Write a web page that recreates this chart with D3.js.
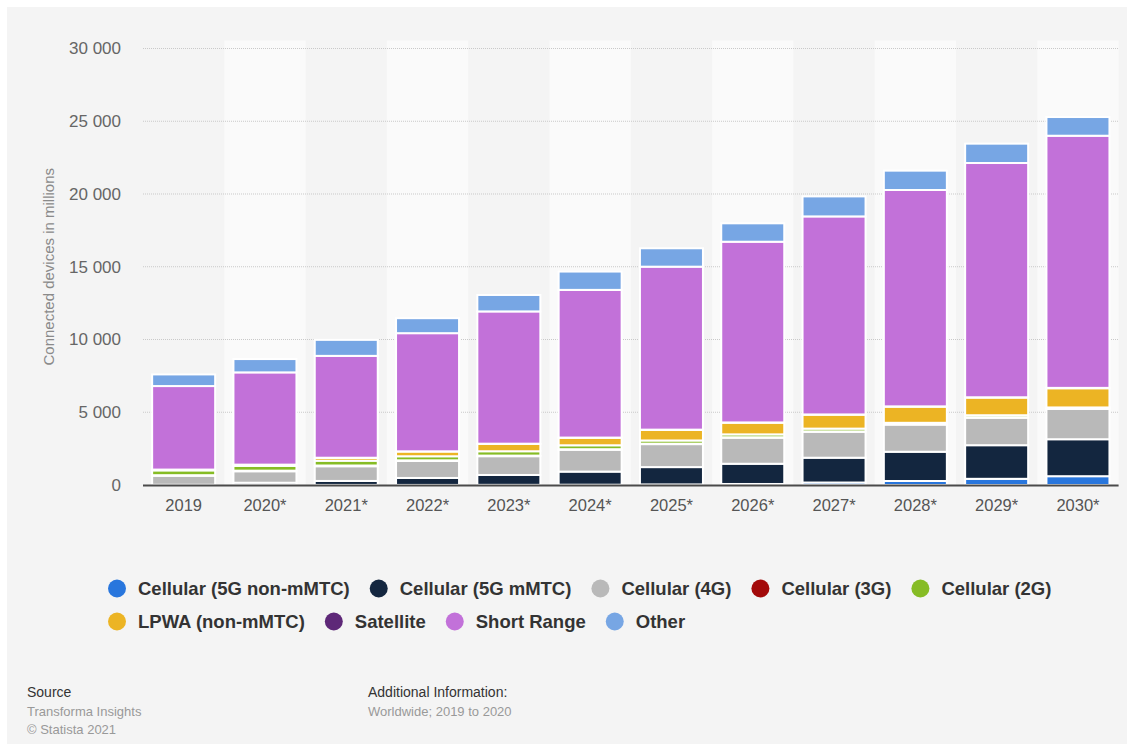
<!DOCTYPE html>
<html>
<head>
<meta charset="utf-8">
<script src="https://cdn.jsdelivr.net/npm/d3@7"></script>
<style>
  html, body { margin: 0; padding: 0; background: #fff; }
  svg { display: block; font-family: "Liberation Sans", Arial, Helvetica, sans-serif; }
</style>
</head>
<body>
<svg id="chart" width="1134" height="744"></svg>
<script>
// categories
var years = ["2019", "2020*", "2021*", "2022*", "2023*", "2024*", "2025*", "2026*", "2027*", "2028*", "2029*", "2030*"];

// series values, connected devices in millions
var cell5GNonMtc = [0, 0, 5, 5, 10, 20, 40, 70, 170, 275, 425, 605];
var cell5GMtc    = [15, 155, 275, 480, 680, 900, 1190, 1390, 1705, 2010, 2310, 2540];
var cell4G       = [620, 790, 1010, 1170, 1290, 1505, 1580, 1790, 1785, 1870, 1890, 2095];
var cell3G       = [40, 40, 50, 40, 40, 35, 30, 30, 25, 20, 20, 10];
var cell2G       = [330, 330, 330, 280, 300, 270, 220, 200, 190, 100, 150, 80];
var lpwa         = [50, 80, 200, 330, 510, 520, 735, 805, 960, 1110, 1215, 1320];
var satellite    = [5, 5, 5, 10, 10, 10, 10, 15, 15, 20, 20, 25];
var shortRange   = [5740, 6340, 7000, 8120, 9090, 10150, 11200, 12420, 13610, 14870, 16100, 17330];
var other        = [800, 915, 1100, 1030, 1130, 1260, 1265, 1265, 1375, 1330, 1330, 1285];

var seriesNames = ["Cellular (5G non-mMTC)", "Cellular (5G mMTC)", "Cellular (4G)", "Cellular (3G)", "Cellular (2G)",
                   "LPWA (non-mMTC)", "Satellite", "Short Range", "Other"];
var seriesColors = ["#2876dd", "#13263f", "#b9b9b9", "#a30a0a", "#86bc25", "#ecb424", "#5e2878", "#c271d9", "#77a6e4"];
var seriesValues = [cell5GNonMtc, cell5GMtc, cell4G, cell3G, cell2G, lpwa, satellite, shortRange, other];

var yTicks = [0, 5000, 10000, 15000, 20000, 25000, 30000];

var rows = years.map(function(yr, i) {
    var r = {year: yr};
    seriesNames.forEach(function(n, k) { r[n] = seriesValues[k][i]; });
    return r;
});

var svg = d3.select("svg#chart");

svg.append("rect")
    .attr("x", 7).attr("y", 7)
    .attr("width", 1120).attr("height", 737)
    .attr("fill", "#f4f4f4");

var plotLeft = 143, plotRight = 1118.6, plotTop = 48.5, plotBottom = 485;

var xBand = d3.scaleBand().domain(years).range([plotLeft, plotRight]).padding(0);
var xBar = d3.scaleBand().domain(years).range([plotLeft, plotRight]).paddingInner(0.225).paddingOuter(0.1125);
var yScale = d3.scaleLinear().domain([0, 30000]).range([plotBottom, plotTop]);

// alternating column shading
svg.append("g").selectAll("rect")
    .data(years.filter(function(d, i) { return i % 2 === 1; }))
    .enter()
    .append("rect")
    .attr("x", function(d) { return xBand(d); })
    .attr("y", plotTop - 8)
    .attr("width", xBand.bandwidth())
    .attr("height", plotBottom - plotTop + 8)
    .attr("fill", "#fafafa");

// grid lines
svg.append("g").selectAll("line")
    .data(yTicks.filter(function(d) { return d > 0; }))
    .enter()
    .append("line")
    .attr("x1", plotLeft).attr("x2", plotRight)
    .attr("y1", function(d) { return yScale(d); })
    .attr("y2", function(d) { return yScale(d); })
    .attr("stroke", "#c9c9c9")
    .attr("stroke-width", 1)
    .attr("stroke-dasharray", "1,1");

// y axis labels
var fmt = function(v) { return d3.format(",")(v).replace(/,/g, " "); };
var yAxis = svg.append("g")
    .attr("transform", "translate(" + (plotLeft - 22) + ",0)")
    .call(d3.axisLeft(yScale).tickValues(yTicks).tickFormat(fmt).tickSize(0).tickPadding(0));
yAxis.select(".domain").remove();
yAxis.selectAll("text")
    .attr("fill", "#666")
    .style("font-size", "17px")
    .style("font-family", "'Liberation Sans', Arial, sans-serif");

svg.append("text")
    .attr("transform", "translate(54," + ((plotTop + plotBottom) / 2) + ") rotate(-90)")
    .attr("text-anchor", "middle")
    .attr("fill", "#8a8a8a")
    .style("font-size", "15px")
    .text("Connected devices in millions");

// stacked bars
var stack = d3.stack().keys(seriesNames);
var layers = stack(rows);

svg.append("g").selectAll("g")
    .data(layers)
    .enter()
    .append("g")
    .attr("fill", function(d, i) { return seriesColors[i]; })
    .selectAll("rect")
    .data(function(d) { return d; })
    .enter()
    .append("rect")
    .attr("x", function(d) { return xBar(d.data.year); })
    .attr("y", function(d) { return yScale(d[1]); })
    .attr("width", xBar.bandwidth())
    .attr("height", function(d) { return Math.max(0, yScale(d[0]) - yScale(d[1])); })
    .attr("stroke", "#ffffff")
    .attr("stroke-width", 2);

// baseline
svg.append("line")
    .attr("x1", plotLeft).attr("x2", plotRight)
    .attr("y1", plotBottom + 0.5).attr("y2", plotBottom + 0.5)
    .attr("stroke", "#4a4a4a")
    .attr("stroke-width", 2);

// x axis labels
var xAxis = svg.append("g")
    .attr("transform", "translate(0," + (plotBottom + 14) + ")")
    .call(d3.axisBottom(xBand).tickSize(0).tickPadding(0));
xAxis.select(".domain").remove();
xAxis.selectAll("text")
    .attr("fill", "#555")
    .attr("dy", "0.71em")
    .style("font-size", "16.5px")
    .style("font-family", "'Liberation Sans', Arial, sans-serif");

// legend
var legendRows = [[0, 1, 2, 3, 4], [5, 6, 7, 8]];
var legendY = [588.5, 621.5];
legendRows.forEach(function(items, r) {
    var cx = 117;
    items.forEach(function(k) {
        var g = svg.append("g");
        g.append("circle")
            .attr("cx", cx).attr("cy", legendY[r]).attr("r", 9)
            .attr("fill", seriesColors[k]);
        var t = g.append("text")
            .attr("x", cx + 21).attr("y", legendY[r])
            .attr("dy", "0.36em")
            .attr("fill", "#333")
            .style("font-size", "18.5px")
            .style("font-weight", "bold")
            .text(seriesNames[k]);
        cx = cx + 21 + t.node().getComputedTextLength() + 29;
    });
});

// footer
var foot = svg.append("g").style("font-size", "13px");
foot.append("text").attr("x", 27).attr("y", 697).attr("fill", "#333").style("font-size", "14px").text("Source");
foot.append("text").attr("x", 27).attr("y", 716).attr("fill", "#999").text("Transforma Insights");
foot.append("text").attr("x", 27).attr("y", 734).attr("fill", "#999").text("© Statista 2021");
foot.append("text").attr("x", 368).attr("y", 697).attr("fill", "#333").style("font-size", "14px").text("Additional Information:");
foot.append("text").attr("x", 368).attr("y", 716).attr("fill", "#999").text("Worldwide; 2019 to 2020");
</script>
</body>
</html>
